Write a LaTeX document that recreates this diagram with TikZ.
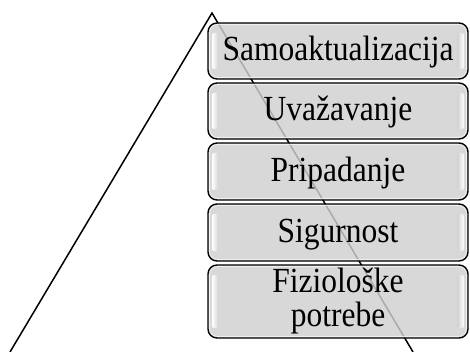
\documentclass[tikz,border=0pt]{standalone}
\usepackage{fontspec}
\setmainfont{Liberation Serif}
\begin{document}
\begin{tikzpicture}[x=1pt,y=-1pt,
  boxstyle/.style={draw=black, line width=1.4pt, rounded corners=9pt, fill=boxgray, fill opacity=0.82},
  txt/.style={font=\fontsize{31.5}{27.5}\selectfont, align=center, inner sep=0pt, text opacity=1, yscale=1.12, transform shape, anchor=base},
  legline/.style={draw=black, line width=1.5pt}]
\definecolor{boxgray}{HTML}{D0D0D0}
\useasboundingbox (0,0) rectangle (470,352);
\clip (0,0) rectangle (470,352);
% triangle
\coordinate (apex) at (212,13);
\coordinate (bl) at (10,352);
\coordinate (br) at (413,352);
\draw[legline] (bl) -- (apex) -- (br);
% boxes
\foreach \name/\top/\bot/\base in {b1/23/79/61, b2/83/139/121, b3/143/200/182, b4/204/261/243, b5/265/338/326}{
  \draw[boxstyle] (208,\top) rectangle (468,\bot);
  \draw[white, opacity=0.6, line width=0.8pt, rounded corners=7.5pt] (209.6,\top+1.6) rectangle (466.4,\bot-1.6);
  \shade[left color=white, right color=boxgray, rounded corners=2pt] (212,\top+10) rectangle (219,\bot-10);
  \shade[right color=white, left color=boxgray, rounded corners=2pt] (457,\top+10) rectangle (464,\bot-10);
  \coordinate (\name) at (338,\base);
}
\node[txt] (t1) at (b1) {Samoaktualizacija};
\node[txt] (t2) at (b2) {Uvažavanje};
\node[txt] (t3) at (b3) {Pripadanje};
\node[txt] (t4) at (b4) {Sigurnost};
\node[txt] (t5) at (b5) {Fiziološke\\[2pt]potrebe};
\end{tikzpicture}
\end{document}
